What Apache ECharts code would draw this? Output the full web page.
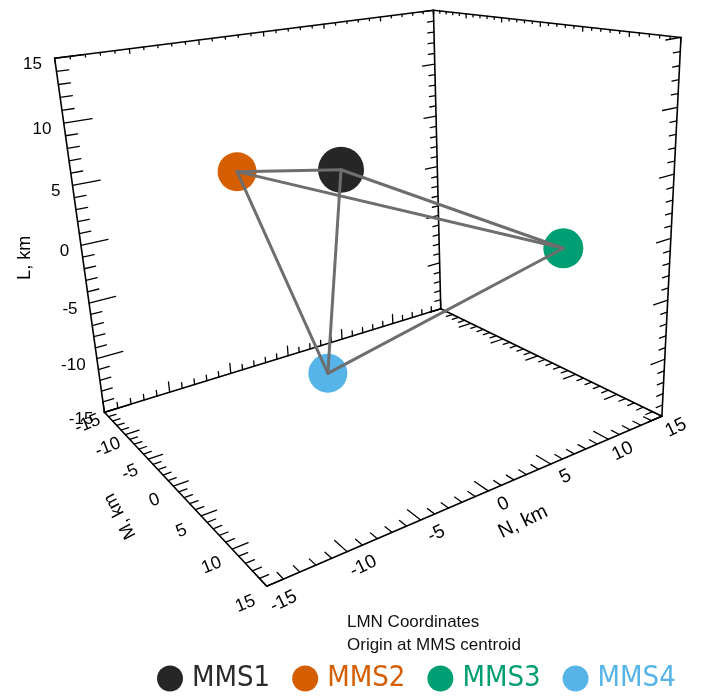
<!DOCTYPE html>
<html><head><meta charset="utf-8">
<script src="https://cdn.jsdelivr.net/npm/echarts@6.0.0/dist/echarts.min.js"></script>
<style>html,body{margin:0;padding:0;background:#fff;}#chart{width:728px;height:696px;}</style>
</head><body><div id="chart"></div>
<script>
// ---------------- data ----------------
const satNames=['MMS1','MMS2','MMS3','MMS4'];
const satN=[4.3,-9.5,7.5,-2.3];     // N, km
const satM=[-12.0,1.8,12.8,-2.6];   // M, km
const satL=[2.6,8.1,0.7,-11.4];     // L, km
const tickValues=[-15,-10,-5,0,5,10,15];
const axisMin=-15, axisMax=15;

// ---------------- styles ----------------
const satColors=['#262626','#d55e00','#009e73','#56b4e9'];
const satSizes=[46,39,40,39];
const FONT='"Liberation Sans", Arial, Helvetica, sans-serif';

// perspective view transform (N,M,L) -> view plane
const VIEW=[
 [15.49833,3.355694,-2.026831,366.3833],
 [-1.477681,0.7235073,-13.11015,242.0097],
 [0.007405406,-0.009555951,-0.003936702,1]
];
function proj(N,M,L){const h=VIEW.map(r=>r[0]*N+r[1]*M+r[2]*L+r[3]);return [h[0]/h[2],h[1]/h[2]];}

const lo=axisMin, hi=axisMax;
const boxEdges=[
 [[lo,lo,lo],[lo,lo,hi]],[[hi,lo,lo],[hi,lo,hi]],[[hi,hi,lo],[hi,hi,hi]],
 [[lo,lo,hi],[hi,lo,hi]],[[hi,lo,hi],[hi,hi,hi]],
 [[lo,lo,lo],[hi,lo,lo]],[[hi,lo,lo],[hi,hi,lo]],[[lo,lo,lo],[lo,hi,lo]],[[lo,hi,lo],[hi,hi,lo]]
];
const tickSpecs=[
 {base:[lo,lo,0],vary:2,dir:[1,0,0],major:1.9,minor:0.8},
 {base:[hi,lo,0],vary:2,dir:[-1,0,0],major:1.2,minor:0.6},
 {base:[hi,hi,0],vary:2,dir:[-1,0,0],major:1.3,minor:0.6},
 {base:[0,lo,hi],vary:0,dir:[0,0,-1],major:0.35,minor:0.2},
 {base:[hi,0,hi],vary:1,dir:[0,0,-1],major:0.35,minor:0.2},
 {base:[0,lo,lo],vary:0,dir:[0,0,1],major:1.0,minor:0.55},
 {base:[hi,0,lo],vary:1,dir:[-1,0,0],major:1.2,minor:0.65},
 {base:[lo,0,lo],vary:1,dir:[1,0,0],major:1.0,minor:0.55},
 {base:[0,hi,lo],vary:0,dir:[0,-1,0],major:1.6,minor:0.85}
];
const boxSegs=boxEdges.map(([a,b])=>[...proj(...a),...proj(...b)]);
const tickSegs=[];
tickSpecs.forEach(s=>{for(let v=lo;v<=hi;v++){const p=s.base.slice();p[s.vary]=v;const len=(v%5===0)?s.major:s.minor;
 const q=p.map((c,i)=>c+s.dir[i]*len);tickSegs.push([...proj(...p),...proj(...q)]);}});
const labelSpecs=[];
tickValues.forEach(v=>labelSpecs.push({pos:[lo-0.85,lo,v-0.3],text:String(v),size:17,rot:0,align:'right'}));
tickValues.forEach(v=>labelSpecs.push({pos:[lo-1.3,v,lo-0.6],text:String(v),size:18,rot:22,align:'center'}));
tickValues.forEach(v=>labelSpecs.push({pos:[v+0.1-0.02*(v-lo),hi+2.0,lo],text:String(v),size:19,rot:26,align:'center'}));
labelSpecs.push({pos:[lo-3.8,lo,0],text:'L, km',size:18,rot:90,align:'center'});
labelSpecs.push({pos:[lo-3.3,-1,lo-1.5],text:'M, km',size:18,rot:118,align:'center'});
labelSpecs.push({pos:[-0.5,hi+4.5,lo],text:'N, km',size:20,rot:26,align:'center'});
const pairs=[[0,1],[0,2],[0,3],[1,2],[1,3],[2,3]];
const satXY=satNames.map((_,i)=>proj(satN[i],satM[i],satL[i]));
const tetraSegs=pairs.map(([i,j])=>[...satXY[i],...satXY[j]]);

function segRenderer(color,width){return (params,api)=>{const a=api.coord([api.value(0),api.value(1)]),b=api.coord([api.value(2),api.value(3)]);
 return {type:'line',shape:{x1:a[0],y1:a[1],x2:b[0],y2:b[1]},style:{stroke:color,lineWidth:width,lineCap:'round'}};};}
const chart=echarts.init(document.getElementById('chart'));
chart.setOption({
 animation:false,
 grid:{left:0,right:0,top:0,bottom:0},
 xAxis:{type:'value',min:0,max:728,show:false},
 yAxis:{type:'value',min:0,max:696,inverse:true,show:false},
 legend:{left:157,top:664,itemWidth:26,itemHeight:26,itemGap:22,padding:0,icon:'circle',selectedMode:false,
  data:satNames.map((n,i)=>({name:n,textStyle:{color:i===0?'#2b2b2b':satColors[i]}})),
  textStyle:{fontSize:29,fontFamily:'"Liberation Sans Narrow","DejaVu Sans Condensed",sans-serif',padding:[0,0,0,4]}},
 graphic:[
  {type:'text',left:347,top:614,style:{text:'LMN Coordinates',font:'17px '+FONT,fill:'#111'}},
  {type:'text',left:347,top:637,style:{text:'Origin at MMS centroid',font:'17px '+FONT,fill:'#111'}}
 ],
 series:[
  {type:'custom',name:'box',silent:true,clip:false,z:1,data:boxSegs,renderItem:segRenderer('#000',1.6)},
  {type:'custom',name:'ticks',silent:true,clip:false,z:1,data:tickSegs,renderItem:segRenderer('#000',1.3)},
  {type:'custom',name:'labels',silent:true,clip:false,z:1,data:labelSpecs.map(s=>proj(...s.pos)),
   renderItem:(params,api)=>{const s=labelSpecs[params.dataIndex];const c=api.coord([api.value(0),api.value(1)]);
    return {type:'text',x:c[0],y:c[1],rotation:s.rot*Math.PI/180,style:{text:s.text,fill:'#000',font:s.size+'px '+FONT,align:s.align,verticalAlign:'middle'}};}},
  ...satNames.map((n,i)=>({type:'scatter',name:n,z:3,data:[satXY[i]],symbol:'circle',symbolSize:satSizes[i],itemStyle:{color:satColors[i],opacity:1},emphasis:{disabled:true}})),
  {type:'custom',name:'tetra',silent:true,clip:false,z:4,data:tetraSegs,renderItem:segRenderer('#6e6e6e',3)}
 ]
});
</script></body></html>
